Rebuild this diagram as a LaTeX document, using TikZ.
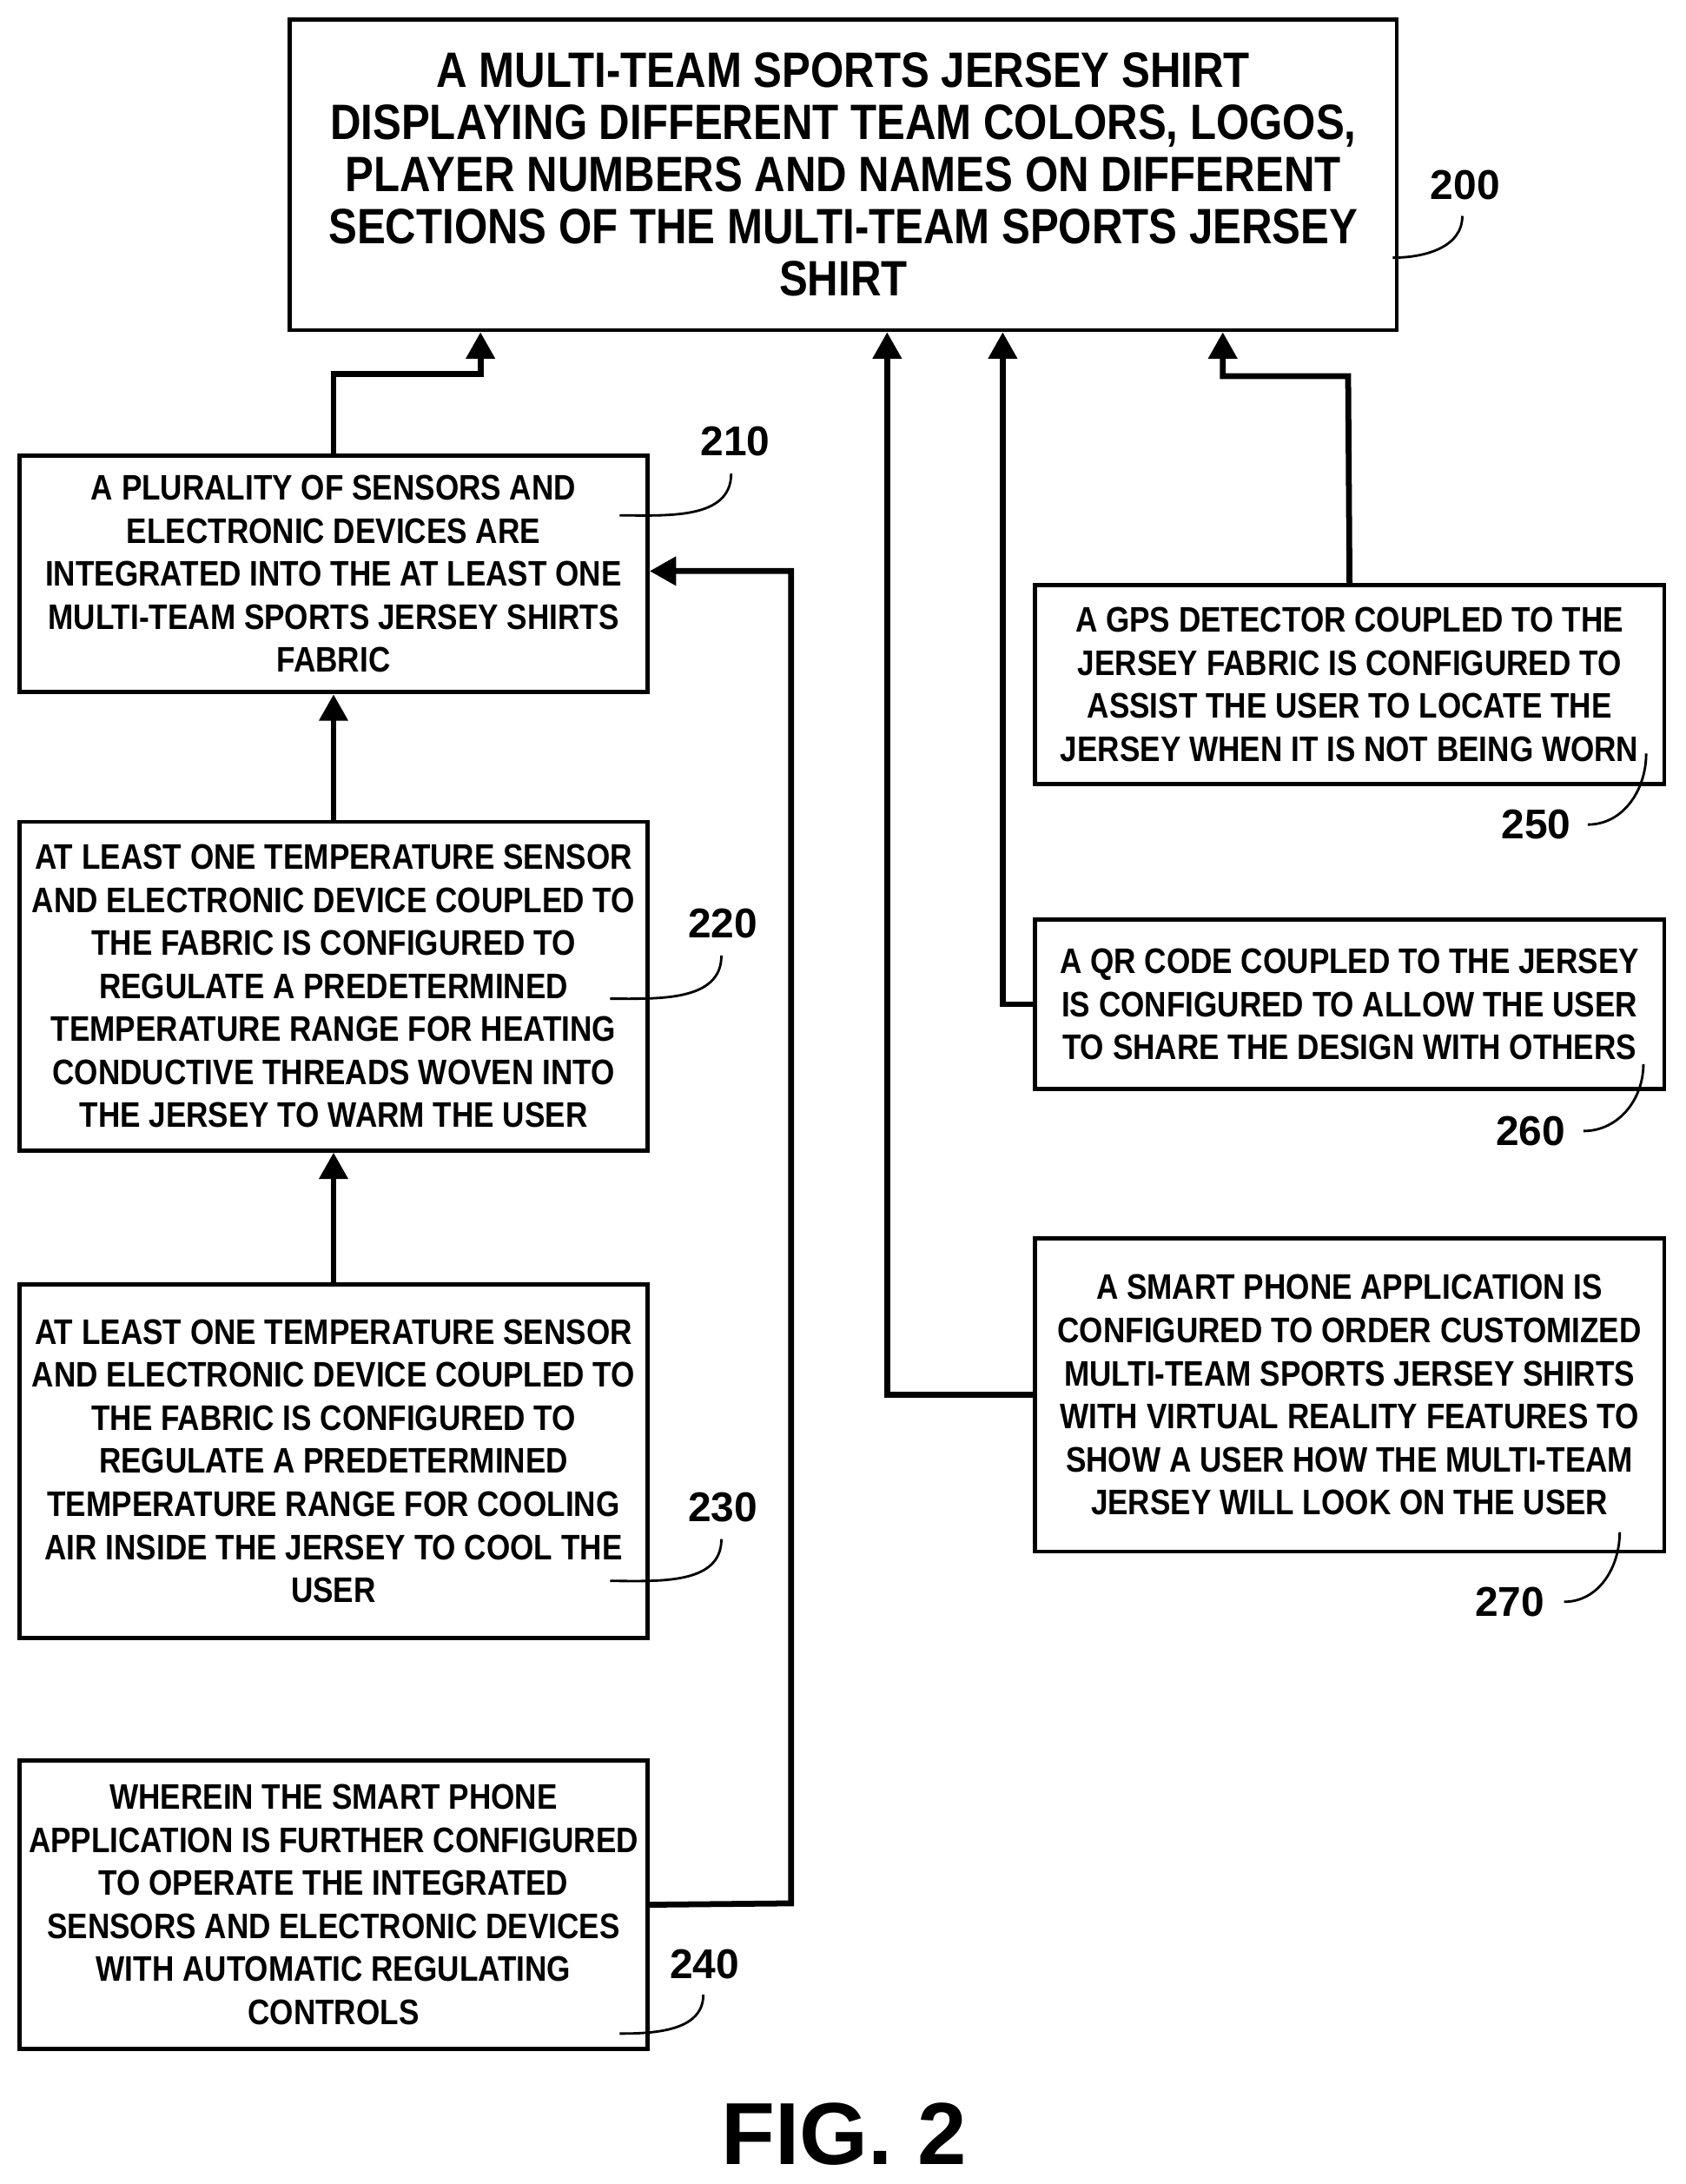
\documentclass[tikz,border=0pt]{standalone}
\usepackage{fontspec}
\setmainfont{Liberation Sans}
\newfontfamily\narrowsans[FakeStretch=0.86]{Liberation Sans}
\usetikzlibrary{arrows.meta}
\begin{document}
\begin{tikzpicture}[x=0.02cm,y=-0.02cm,
  box/.style={draw,line width=1.7pt,align=center,inner sep=0pt,font=\narrowsans\bfseries\fontsize{14.5}{17.6}\selectfont},
  conn/.style={line width=2.4pt,-{Triangle[length=0.38cm,width=0.4cm]}},
  lead/.style={line width=1pt},
  lab/.style={font=\bfseries\fontsize{17}{20}\selectfont}]
\useasboundingbox (0,0) rectangle (1210,1568);
\node[box,minimum width=15.9cm,minimum height=4.46cm,font=\narrowsans\bfseries\fontsize{20.3}{21.3}\selectfont] (n200) at (605.5,125.5) {A MULTI-TEAM SPORTS JERSEY SHIRT\\DISPLAYING DIFFERENT TEAM COLORS, LOGOS,\\PLAYER NUMBERS AND NAMES ON DIFFERENT\\SECTIONS OF THE MULTI-TEAM SPORTS JERSEY\\SHIRT};
\node[box,minimum width=9.02cm,minimum height=3.4cm] (n210) at (239.5,412) {A PLURALITY OF SENSORS AND\\ELECTRONIC DEVICES ARE\\INTEGRATED INTO THE AT LEAST ONE\\MULTI-TEAM SPORTS JERSEY SHIRTS\\FABRIC};
\node[box,minimum width=9.02cm,minimum height=4.72cm] (n220) at (239.5,708) {AT LEAST ONE TEMPERATURE SENSOR\\AND ELECTRONIC DEVICE COUPLED TO\\THE FABRIC IS CONFIGURED TO\\REGULATE A PREDETERMINED\\TEMPERATURE RANGE FOR HEATING\\CONDUCTIVE THREADS WOVEN INTO\\THE JERSEY TO WARM THE USER};
\node[box,minimum width=9.02cm,minimum height=5.08cm] (n230) at (239.5,1049) {AT LEAST ONE TEMPERATURE SENSOR\\AND ELECTRONIC DEVICE COUPLED TO\\THE FABRIC IS CONFIGURED TO\\REGULATE A PREDETERMINED\\TEMPERATURE RANGE FOR COOLING\\AIR INSIDE THE JERSEY TO COOL THE\\USER};
\node[box,minimum width=9.02cm,minimum height=4.14cm] (n240) at (239.5,1367.5) {WHEREIN THE SMART PHONE\\APPLICATION IS FURTHER CONFIGURED\\TO OPERATE THE INTEGRATED\\SENSORS AND ELECTRONIC DEVICES\\WITH AUTOMATIC REGULATING\\CONTROLS};
\node[box,minimum width=9.04cm,minimum height=2.86cm] (n250) at (969,491.5) {A GPS DETECTOR COUPLED TO THE\\JERSEY FABRIC IS CONFIGURED TO\\ASSIST THE USER TO LOCATE THE\\JERSEY WHEN IT IS NOT BEING WORN};
\node[box,minimum width=9.04cm,minimum height=2.44cm] (n260) at (969,721) {A QR CODE COUPLED TO THE JERSEY\\IS CONFIGURED TO ALLOW THE USER\\TO SHARE THE DESIGN WITH OTHERS};
\node[box,minimum width=9.04cm,minimum height=4.5cm] (n270) at (969,1001.5) {A SMART PHONE APPLICATION IS\\CONFIGURED TO ORDER CUSTOMIZED\\MULTI-TEAM SPORTS JERSEY SHIRTS\\WITH VIRTUAL REALITY FEATURES TO\\SHOW A USER HOW THE MULTI-TEAM\\JERSEY WILL LOOK ON THE USER};
% connectors
\draw[conn] (n210.north) -- ++(0,-57) -| (n200.south -| 345,0);
\draw[conn] (n220.north) -- (n210.south);
\draw[conn] (n230.north) -- (n220.south);
\draw[conn] (n240.east) -- (568,1366.5) |- (n210.east |- 0,410);
\draw[conn] (n270.west) -- (637,1001.5) -- (n200.south -| 637,0);
\draw[conn] (n260.west) -- (720,721) -- (n200.south -| 720,0);
\draw[conn] (n250.north) -- (968,270) -| (n200.south -| 878,0);
% labels
\node[lab] (l200) at (1052,133) {200};
\node[lab] (l210) at (528,317) {210};
\node[lab] (l220) at (519,663) {220};
\node[lab] (l230) at (519,1082) {230};
\node[lab] (l240) at (506,1410) {240};
\node[lab] (l250) at (1103,592) {250};
\node[lab] (l260) at (1099,812) {260};
\node[lab] (l270) at (1084,1150) {270};
\draw[lead] (1000,185) to[out=0,in=-90] (1050,155);
\draw[lead] (445,370) to[out=0,in=-90] (525,340);
\draw[lead] (438,717) to[out=0,in=-90] (518,686);
\draw[lead] (438,1135) to[out=0,in=-90] (518,1105);
\draw[lead] (445,1460) to[out=0,in=-90] (505,1432);
\draw[lead] (1140,592) to[out=0,in=-90] (1182,541);
\draw[lead] (1137,812) to[out=0,in=-90] (1180,764);
\draw[lead] (1123,1150) to[out=0,in=-90] (1163,1100);
\node[font=\bfseries\fontsize{36}{40}\selectfont] (fig) at (606,1532) {FIG. 2};
\end{tikzpicture}
\end{document}
